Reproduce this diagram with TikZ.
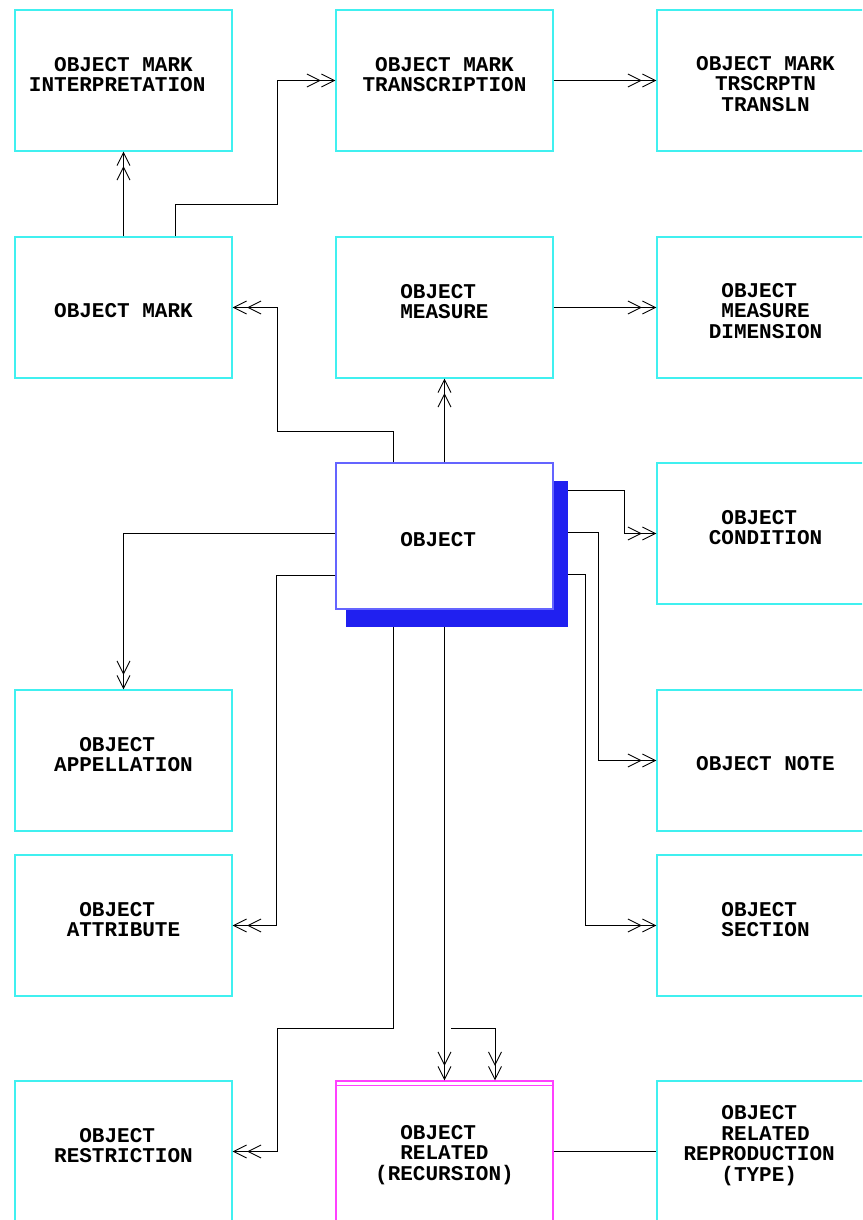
\documentclass[tikz,border=0pt]{standalone}
\usepackage{fontspec}
\setmonofont{Liberation Mono}
\usetikzlibrary{arrows.meta}

\definecolor{boxcyan}{RGB}{64,240,240}
\definecolor{boxmagenta}{RGB}{255,64,255}
\definecolor{objblue}{RGB}{100,100,255}
\definecolor{shadowblue}{RGB}{32,32,240}

\newcommand{\pad}{\hphantom{X}}

\tikzset{
	box/.style={draw=boxcyan,line width=1.2pt,minimum width=217pt,minimum height=141pt,inner sep=0pt},
	txt/.style={font=\ttfamily\bfseries\fontsize{21}{20.7}\selectfont,align=center,inner sep=0pt},
	oddtext/.style={label={[txt,yshift=-3.5pt]center:{#1}}},
	eventext/.style={label={[txt,yshift=6pt]center:{#1}}},
	link/.style={line width=0.9pt},
	dbl/.style={link,-{Straight Barb[length=13pt,width=13pt,sep=0pt]Straight Barb[length=13pt,width=13pt]}}
}

\begin{document}
\begin{tikzpicture}[x=1pt,y=-1pt]
			
			\useasboundingbox (0,0) rectangle (862,1220);
			\clip (0,0) rectangle (862,1220);
			\fill[white] (0,0) rectangle (862,1220);
			
			\node[box,eventext={OBJECT MARK\\INTERPRETATION\pad}] (mi) at (123.5,80.5) {};
			\node[box,eventext={OBJECT MARK\\TRANSCRIPTION}] (mt) at (444.5,80.5) {};
			\node[box,oddtext={OBJECT MARK\\TRSCRPTN\\TRANSLN}] (mtt) at (765.5,80.5) {};
			
			\node[box,oddtext={OBJECT MARK}] (mark) at (123.5,307.5) {};
			\node[box,eventext={OBJECT\pad\\MEASURE}] (measure) at (444.5,307.5) {};
			\node[box,oddtext={OBJECT\pad\\MEASURE\\DIMENSION}] (dim) at (765.5,307.5) {};
			
			\node[fill=shadowblue,minimum width=222pt,minimum height=146pt,inner sep=0pt] (shd) at (457,554) {};
			\node[box,draw=objblue,fill=white,minimum height=146pt,oddtext={OBJECT\pad}] (obj) at (444.5,536) {};
			\node[box,eventext={OBJECT\pad\\CONDITION}] (cond) at (765.5,533.5) {};
			
			\node[box,eventext={OBJECT\pad\\APPELLATION}] (appel) at (123.5,760.5) {};
			\node[box,oddtext={OBJECT NOTE}] (note) at (765.5,760.5) {};
			
			\node[box,eventext={OBJECT\pad\\ATTRIBUTE}] (attr) at (123.5,925.5) {};
			\node[box,eventext={OBJECT\pad\\SECTION}] (section) at (765.5,925.5) {};
			
			\node[box,eventext={OBJECT\pad\\RESTRICTION}] (restr) at (123.5,1151.5) {};
			\node[box,draw=boxmagenta,oddtext={OBJECT\pad\\RELATED\\(RECURSION)}] (related) at (444.5,1151.5) {};
			\node[box,eventext={OBJECT\pad\\RELATED\\REPRODUCTION\pad\\(TYPE)\pad}] (repro) at (765.5,1151.5) {};
			\draw[boxmagenta,line width=1.2pt] ([yshift=-5pt]related.north west) -- ([yshift=-5pt]related.north east);
			
			\draw[dbl] (mark) -- (mi);
			\draw[dbl] ([xshift=51.5pt]mark.north) |- (277,204) |- (mt.west);
			\draw[dbl] (mt) -- (mtt);
			\draw[dbl] (measure) -- (dim);
			\draw[dbl] (obj) -- (measure);
			\draw[dbl] ([xshift=-51.5pt]obj.north) |- (277,431) |- (mark.east);
			
			\draw[dbl] ([yshift=-10pt]shd.north east) -- ++(56,0) |- (cond.west);
			\draw[dbl] ([yshift=-52pt]shd.north east) -- ++(30,0) |- (note.west);
			\draw[dbl] ([yshift=-94pt]shd.north east) -- ++(17,0) |- (section.west);
			\draw[dbl] ([yshift=3pt]obj.west) -| (appel.north);
			\draw[dbl] ([yshift=-39pt]obj.west) -- ++(-59,0) |- (attr.east);
			
			\draw[dbl] ([xshift=-64pt]shd.south) |- (277,1028) |- (restr.east);
			\draw[dbl] (obj.south |- shd.south) -- (related.north);
			\coordinate (rec) at (451,1028);
			\draw[dbl] (rec) -| ([xshift=50.5pt]related.north);
			\draw[link] (related) -- (repro);
			
\end{tikzpicture}
\end{document}
